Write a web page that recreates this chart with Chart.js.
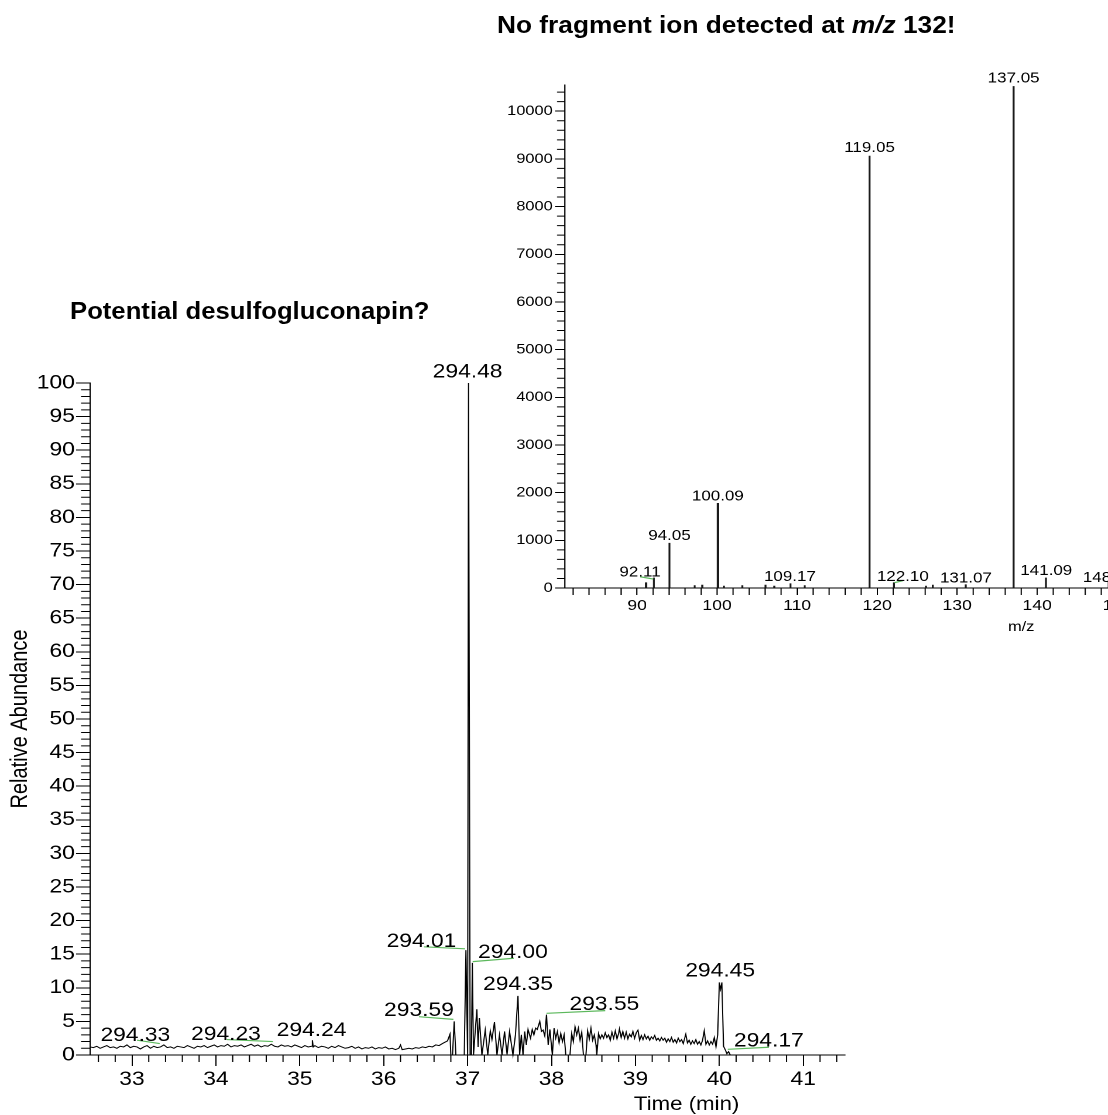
<!DOCTYPE html>
<html>
<head>
<meta charset="utf-8">
<script src="https://cdn.jsdelivr.net/npm/chart.js@4.4.1/dist/chart.umd.min.js"></script>
<style>
  html, body { margin: 0; padding: 0; background: #fff; overflow: hidden; width: 1108px; height: 1115px; }
  #wrap { position: relative; width: 1108px; height: 1115px; overflow: hidden; }
  canvas { position: absolute; top: 0; }
  #ticCanvas { left: 0; z-index: 1; }
  #specCanvas { left: 480px; z-index: 2; }
  .title { position: absolute; z-index: 3; font-family: "Liberation Sans", Arial, sans-serif; font-weight: bold;
           font-size: 24px; line-height: 24px; white-space: nowrap; color: #000;
           transform-origin: 0 0; transform: scaleX(1.07); }
  #specTitle { transform: scaleX(1.095); }
</style>
</head>
<body>
<div id="wrap">
  <canvas id="ticCanvas"></canvas>
  <canvas id="specCanvas"></canvas>
  <div class="title" style="left:70px; top:299px;">Potential desulfogluconapin?</div>
  <div class="title" id="specTitle" style="left:497px; top:13px;">No fragment ion detected at <i>m/z</i> 132!</div>
</div>
<script>
// ---------- Extracted ion chromatogram (time in min, relative abundance in %) ----------
const ticTrace = [
  [32.50,1.2],[32.54,1.1],[32.58,1.3],[32.62,1.0],[32.66,1.2],[32.70,1.4],[32.74,1.1],[32.78,1.2],
  [32.82,1.0],[32.86,1.3],[32.90,1.2],[32.94,1.5],[32.98,1.1],[33.02,1.3],[33.06,1.2],[33.10,0.9],
  [33.14,1.2],[33.18,1.4],[33.22,1.0],[33.26,1.3],[33.30,1.1],[33.34,1.2],[33.38,1.5],[33.42,1.1],
  [33.46,1.2],[33.50,1.0],[33.54,1.3],[33.58,1.2],[33.62,1.1],[33.66,1.4],[33.70,1.2],[33.74,1.0],
  [33.78,1.3],[33.82,1.2],[33.86,1.4],[33.90,1.1],[33.94,1.3],[33.98,1.5],[34.02,1.2],[34.06,1.4],
  [34.10,1.3],[34.14,1.6],[34.18,1.2],[34.22,1.4],[34.26,1.3],[34.30,1.5],[34.34,1.2],[34.38,1.4],
  [34.42,1.6],[34.46,1.3],[34.50,1.5],[34.54,1.2],[34.58,1.4],[34.62,1.3],[34.66,1.6],[34.70,1.3],
  [34.74,1.2],[34.78,1.5],[34.82,1.3],[34.86,1.4],[34.90,1.2],[34.94,1.5],[34.98,1.3],[35.02,1.1],
  [35.06,1.4],[35.10,1.2],[35.14,1.3],[35.15,2.2],[35.16,1.2],[35.18,1.4],[35.22,1.1],[35.26,1.3],
  [35.30,1.2],[35.34,1.0],[35.38,1.3],[35.42,1.1],[35.46,1.4],[35.50,1.2],[35.54,1.0],[35.58,1.1],
  [35.62,1.3],[35.66,1.0],[35.70,1.2],[35.74,0.9],[35.78,1.1],[35.82,1.0],[35.86,1.2],[35.90,0.9],
  [35.94,1.1],[35.98,1.0],[36.02,1.2],[36.06,0.9],[36.10,1.0],[36.14,0.8],[36.18,1.0],[36.20,1.5],
  [36.22,0.8],[36.26,0.9],[36.30,1.0],[36.34,0.9],[36.38,1.1],[36.42,1.0],[36.46,1.2],[36.50,1.1],
  [36.54,1.3],[36.58,1.2],[36.62,1.5],[36.66,1.4],[36.70,1.7],[36.73,1.9],[36.76,2.1],[36.79,3.1],
  [36.80,0],[36.82,0],[36.84,5.0],[36.86,0],[36.96,0],[36.98,15.6],[37.00,0],[37.011,100],
  [37.019,100],[37.03,0],[37.045,0],[37.056,13.7],[37.07,0],[37.11,6.8],[37.125,1.2],[37.14,5.5],
  [37.17,0],[37.21,3.7],[37.24,0],[37.27,3.6],[37.29,2.3],[37.32,4.9],[37.35,0],[37.38,3.0],
  [37.41,0],[37.44,3.5],[37.47,0.1],[37.50,3.5],[37.54,0],[37.57,3.0],[37.60,8.8],[37.62,0],
  [37.64,3.0],[37.66,0],[37.68,3.5],[37.70,1.5],[37.72,3.8],[37.75,2.5],[37.77,3.8],[37.79,3.0],
  [37.81,4.0],[37.83,3.8],[37.86,5.0],[37.88,3.5],[37.90,3.7],[37.92,2.8],[37.94,6.0],[37.96,1.5],
  [37.98,3.8],[38.01,0],[38.03,4.0],[38.05,2.5],[38.07,3.5],[38.09,1.8],[38.11,3.2],[38.13,2.0],
  [38.15,3.0],[38.17,0],[38.20,0],[38.22,0],[38.24,3.2],[38.26,2.0],[38.28,4.2],[38.30,3.0],
  [38.32,4.0],[38.34,2.2],[38.36,3.4],[38.38,0],[38.41,0],[38.43,3.6],[38.45,2.4],[38.47,4.0],
  [38.49,2.2],[38.51,3.0],[38.53,1.5],[38.54,0],[38.56,3.2],[38.58,2.4],[38.60,3.0],[38.62,2.5],
  [38.64,3.3],[38.66,2.6],[38.68,3.0],[38.70,2.2],[38.72,3.4],[38.74,2.5],[38.76,3.6],[38.78,2.4],
  [38.80,3.2],[38.81,3.9],[38.83,2.6],[38.85,3.5],[38.87,2.5],[38.89,3.4],[38.91,2.4],[38.93,3.1],
  [38.95,2.7],[38.97,3.5],[38.99,2.5],[39.01,3.3],[39.03,3.7],[39.05,2.2],[39.07,2.9],[39.09,2.3],
  [39.11,3.0],[39.13,2.4],[39.15,2.8],[39.17,2.2],[39.19,2.7],[39.21,2.4],[39.23,2.9],[39.25,2.2],
  [39.27,2.5],[39.29,2.1],[39.31,2.6],[39.33,2.2],[39.35,2.5],[39.37,1.9],[39.39,2.4],[39.41,2.0],
  [39.43,2.6],[39.45,1.9],[39.47,2.3],[39.49,1.8],[39.51,2.5],[39.53,2.0],[39.55,2.3],[39.57,1.7],
  [39.60,3.1],[39.62,1.8],[39.64,2.2],[39.66,1.6],[39.68,2.1],[39.70,1.7],[39.72,2.3],[39.74,1.6],
  [39.76,2.0],[39.78,1.5],[39.80,2.2],[39.82,3.6],[39.84,1.6],[39.86,2.1],[39.88,1.5],[39.90,2.0],
  [39.92,1.6],[39.94,2.6],[39.96,1.2],[39.98,3.0],[40.00,10.8],[40.015,9.8],[40.03,10.8],[40.05,1.3],
  [40.07,0.8],[40.09,0.2],[40.11,0.5],[40.13,0],[41.50,0]
];
const ticXTicks = [33, 34, 35, 36, 37, 38, 39, 40, 41];
const ticYTicks = [0, 5, 10, 15, 20, 25, 30, 35, 40, 45, 50, 55, 60, 65, 70, 75, 80, 85, 90, 95, 100];

// peak annotations: m/z text, anchored at (time, abundance) of the text baseline centre
const ticLabelText  = ['294.33', '294.23', '294.24', '293.59', '294.01', '294.48', '294.00', '294.35', '293.55', '294.45', '294.17'];
const ticLabelTime  = [33.04, 34.12, 35.14, 36.42, 36.45, 37.00, 37.54, 37.60, 38.63, 40.01, 40.59];
const ticLabelAbund = [2.1, 2.2, 2.8, 5.8, 16.1, 100.8, 14.4, 9.7, 6.7, 11.7, 1.3];
// green leader lines: [time1, abund1, time2, abund2]
const ticLeaders = [
  [33.06, 2.2, 33.33, 1.7],
  [34.13, 2.3, 34.68, 2.0],
  [36.42, 5.7, 36.83, 5.3],
  [36.48, 16.1, 36.97, 15.8],
  [37.06, 13.9, 37.55, 14.4],
  [37.94, 6.2, 38.64, 6.6],
  [40.10, 0.85, 40.59, 1.15]
];

// ---------- MS/MS spectrum (m/z, intensity) ----------
const specMz  = [91.12, 92.11, 94.05, 97.20, 98.15, 100.09, 100.85, 103.15, 106.05, 107.15, 109.17, 110.95,
                 119.05, 122.10, 126.10, 126.95, 131.07, 137.05, 141.09, 148.93];
const specInt = [110, 210, 940, 50, 60, 1775, 40, 50, 60, 40, 90, 50,
                 9060, 110, 40, 60, 70, 10520, 210, 130];
const specXTicks = [90, 100, 110, 120, 130, 140, 150];
const specYTicks = [0, 1000, 2000, 3000, 4000, 5000, 6000, 7000, 8000, 9000, 10000];
const specLabelText = ['92.11', '94.05', '100.09', '109.17', '119.05', '122.10', '131.07', '137.05', '141.09', '148.93'];
const specLabelMz   = [90.37, 94.05, 100.09, 109.10, 119.05, 123.21, 131.09, 137.05, 141.13, 148.93];
const specLabelInt  = [236, 1010, 1840, 150, 9144, 146, 111, 10605, 271, 125];
const specLeaders = [
  [90.37, 236, 92.04, 188],
  [122.16, 111, 123.21, 153]
];

// ---------- drawing ----------
const FONT = '"Liberation Sans", Arial, sans-serif';
const STRETCH = 1.17;          // horizontal scaling of both plot canvases
const LEADER_GREEN = '#5cb85c';

function prepCanvas(id, w, h) {
  const c = document.getElementById(id);
  c.width = w;
  c.height = h;
  c.style.width = (w * STRETCH) + 'px';
  c.style.height = h + 'px';
  return c;
}

const tickFromList = list => scale => { scale.ticks = list.map(v => ({ value: v })); };

// ---- chromatogram ----
const W1 = 740, H1 = 1115;
const ticCanvas = prepCanvas('ticCanvas', W1, H1);

const ticDecor = {
  id: 'ticDecor',
  afterDraw(chart) {
    const { ctx, chartArea: a, scales: { x, y } } = chart;
    ctx.save();
    // minor ticks
    ctx.strokeStyle = '#000';
    ctx.lineWidth = 1;
    ctx.beginPath();
    for (let v = 1; v < 100; v++) {
      if (v % 5 === 0) continue;
      const py = y.getPixelForValue(v);
      ctx.moveTo(a.left - 9 / STRETCH, py);
      ctx.lineTo(a.left, py);
    }
    for (let i = 163; i <= 207; i++) {
      if (i % 5 === 0) continue;
      const px = x.getPixelForValue(i / 5);
      ctx.moveTo(px, a.bottom);
      ctx.lineTo(px, a.bottom + 7);
    }
    ctx.stroke();
    // leader lines
    ctx.strokeStyle = LEADER_GREEN;
    ctx.lineWidth = 1.2;
    ctx.beginPath();
    ticLeaders.forEach(([t1, v1, t2, v2]) => {
      ctx.moveTo(x.getPixelForValue(t1), y.getPixelForValue(v1));
      ctx.lineTo(x.getPixelForValue(t2), y.getPixelForValue(v2));
    });
    ctx.stroke();
    // peak labels
    ctx.fillStyle = '#000';
    ctx.font = '19.5px ' + FONT;
    ctx.textAlign = 'center';
    ctx.textBaseline = 'alphabetic';
    ticLabelText.forEach((txt, i) => {
      ctx.fillText(txt, x.getPixelForValue(ticLabelTime[i]), y.getPixelForValue(ticLabelAbund[i]));
    });
    // x-axis title
    ctx.font = '19px ' + FONT;
    ctx.textBaseline = 'middle';
    ctx.fillText('Time (min)', x.getPixelForValue(39.61), a.bottom + 50);
    ctx.restore();
  }
};

new Chart(ticCanvas, {
  type: 'line',
  data: {
    datasets: [{
      data: ticTrace.map(([t, v]) => ({ x: t, y: v })),
      borderColor: '#000',
      borderWidth: 1,
      pointRadius: 0,
      tension: 0,
      fill: false,
      clip: false
    }]
  },
  options: {
    responsive: false,
    animation: false,
    devicePixelRatio: 2,
    events: [],
    layout: { padding: { top: 383, right: W1 - 845 / STRETCH, left: 0, bottom: 0 } },
    plugins: { legend: { display: false }, tooltip: { enabled: false } },
    scales: {
      x: {
        type: 'linear', min: 32.5, max: 41.5,
        afterBuildTicks: tickFromList(ticXTicks),
        afterFit: s => { s.height = 60; },
        grid: { drawOnChartArea: false, tickLength: 11, color: '#000', tickColor: '#000', tickWidth: 1 },
        border: { color: '#000', width: 1 },
        ticks: { font: { family: FONT, size: 19.5 }, color: '#000', padding: 2, autoSkip: false, maxRotation: 0,
                 callback: v => String(v) }
      },
      y: {
        type: 'linear', min: 0, max: 100,
        afterBuildTicks: tickFromList(ticYTicks),
        afterFit: s => { s.width = 90 / STRETCH; },
        grid: { drawOnChartArea: false, tickLength: 14 / STRETCH, color: '#000', tickColor: '#000', tickWidth: 1 },
        border: { color: '#000', width: 1 },
        ticks: { font: { family: FONT, size: 19.5 }, color: '#000', padding: 1, autoSkip: false,
                 callback: v => String(v) },
        title: { display: true, text: 'Relative Abundance', color: '#000',
                 font: { family: FONT, size: 20 }, padding: { top: 5.5, bottom: 0 } }
      }
    }
  },
  plugins: [ticDecor]
});

// ---- spectrum ----
const W2 = 575, H2 = 640;
const specCanvas = prepCanvas('specCanvas', W2, H2);

const specDecor = {
  id: 'specDecor',
  afterDraw(chart) {
    const { ctx, chartArea: a, scales: { x, y } } = chart;
    ctx.save();
    ctx.strokeStyle = '#000';
    ctx.lineWidth = 1;
    ctx.beginPath();
    for (let v = 200; v <= 10400; v += 200) {
      if (v % 1000 === 0) continue;
      const py = y.getPixelForValue(v);
      ctx.moveTo(a.left - 8 / STRETCH, py);
      ctx.lineTo(a.left, py);
    }
    for (let m = 82; m <= 152; m += 2) {
      if (m % 10 === 0) continue;
      const px = x.getPixelForValue(m);
      ctx.moveTo(px, a.bottom);
      ctx.lineTo(px, a.bottom + 7);
    }
    ctx.stroke();
    ctx.strokeStyle = LEADER_GREEN;
    ctx.lineWidth = 1.2;
    ctx.beginPath();
    specLeaders.forEach(([m1, i1, m2, i2]) => {
      ctx.moveTo(x.getPixelForValue(m1), y.getPixelForValue(i1));
      ctx.lineTo(x.getPixelForValue(m2), y.getPixelForValue(i2));
    });
    ctx.stroke();
    ctx.fillStyle = '#000';
    ctx.font = '14.5px ' + FONT;
    ctx.textAlign = 'center';
    ctx.textBaseline = 'alphabetic';
    specLabelText.forEach((txt, i) => {
      ctx.fillText(txt, x.getPixelForValue(specLabelMz[i]), y.getPixelForValue(specLabelInt[i]));
    });
    ctx.font = '14px ' + FONT;
    ctx.textBaseline = 'middle';
    ctx.fillText('m/z', x.getPixelForValue(138.0), a.bottom + 39);
    ctx.restore();
  }
};

new Chart(specCanvas, {
  type: 'bar',
  data: {
    datasets: [{
      data: specMz.map((m, i) => ({ x: m, y: specInt[i] })),
      backgroundColor: '#1a1a1a',
      borderWidth: 0,
      barThickness: 1
    }]
  },
  options: {
    responsive: false,
    animation: false,
    devicePixelRatio: 2,
    events: [],
    layout: { padding: { top: 85, right: W2 - (1133 - 480) / STRETCH, left: 0, bottom: 0 } },
    plugins: { legend: { display: false }, tooltip: { enabled: false } },
    scales: {
      x: {
        type: 'linear', min: 81, max: 152, offset: false,
        afterBuildTicks: tickFromList(specXTicks),
        afterFit: s => { s.height = H2 - 588; },
        grid: { drawOnChartArea: false, offset: false, tickLength: 7, color: '#000', tickColor: '#000' },
        border: { color: '#000', width: 1 },
        ticks: { font: { family: FONT, size: 15 }, color: '#000', padding: 2, autoSkip: false, maxRotation: 0,
                 callback: v => String(v) }
      },
      y: {
        type: 'linear', min: 0, max: 10550,
        afterBuildTicks: tickFromList(specYTicks),
        afterFit: s => { s.width = (565 - 480) / STRETCH; },
        grid: { drawOnChartArea: false, tickLength: 10 / STRETCH, color: '#000', tickColor: '#000' },
        border: { color: '#000', width: 1 },
        ticks: { font: { family: FONT, size: 14 }, color: '#000', padding: 2, autoSkip: false,
                 callback: v => String(v) }
      }
    }
  },
  plugins: [specDecor]
});
</script>
</body>
</html>
